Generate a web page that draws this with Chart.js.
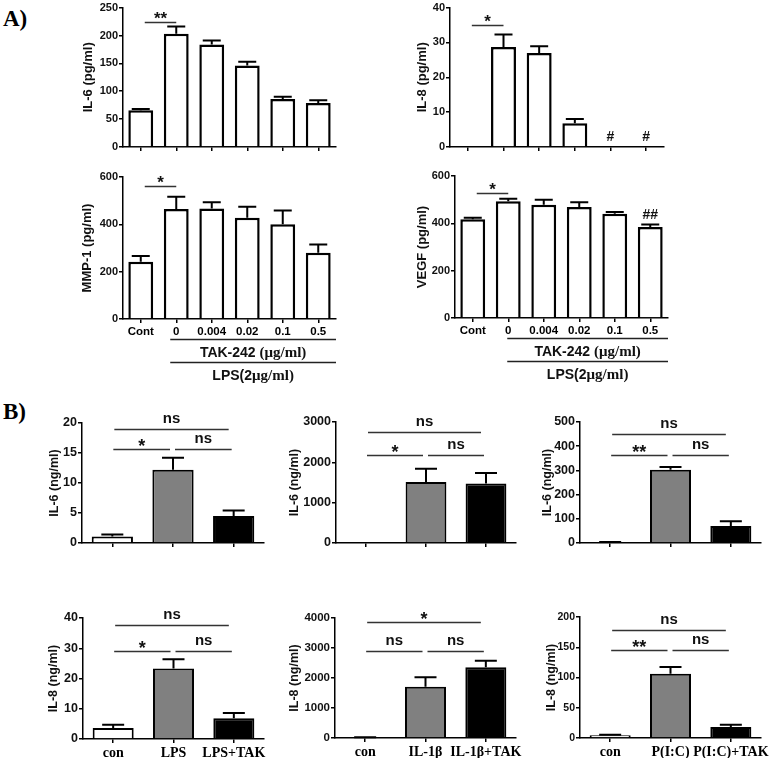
<!DOCTYPE html>
<html><head><meta charset="utf-8">
<script src="https://cdn.jsdelivr.net/npm/chart.js@4.4.1/dist/chart.umd.min.js"></script>
<style>
html,body{margin:0;padding:0;background:#fff;}
body{position:relative;width:778px;height:760px;overflow:hidden;}
canvas{position:absolute;}
.lbl{position:absolute;font-family:"Liberation Serif",serif;font-weight:bold;font-size:23px;line-height:23px;color:#000;}
</style></head><body>
<div class="lbl" style="left:3px;top:7px;">A)</div>
<div class="lbl" style="left:3px;top:400px;">B)</div>
<script>
// ---------- Panel A data ----------
const catA = ['Cont', '0', '0.004', '0.02', '0.1', '0.5'];
const il6A = [66, 203, 184, 146, 86, 79];
const il6AErr = [2, 13, 7, 7, 4, 5];
const il8A = [0, 28.7, 27.0, 6.8, 0, 0];
const il8AErr = [0, 3.6, 1.9, 1.2, 0, 0];
const il8AMarks = ['', '', '', '', '#', '#'];
const mmpA = [242, 465, 467, 428, 400, 280];
const mmpAErr = [24, 52, 26, 46, 58, 35];
const vegfA = [417, 493, 479, 469, 441, 385];
const vegfAErr = [7, 11, 21, 20, 7, 10];
const vegfAMarks = ['', '', '', '', '', '##'];
const sigIl6A = [[0, 1, 224, '**']];
const sigIl8A = [[0, 1, 35, '*']];
const sigMmpA = [[0, 1, 562, '*']];
const sigVegfA = [[0, 1, 528, '*']];

// ---------- Panel B data ----------
const catLPS = ['con', 'LPS', 'LPS+TAK'];
const catIL1 = ['con', 'IL-1β', 'IL-1β+TAK'];
const catPIC = ['con', 'P(I:C)', 'P(I:C)+TAK'];
const il6LPS = [1.1, 12.2, 4.5];
const il6LPSErr = [0.3, 2.0, 0.9];
const il6IL1 = [0, 1512, 1478];
const il6IL1Err = [0, 330, 257];
const il6PIC = [3, 303, 70];
const il6PICErr = [1, 11, 20];
const il8LPS = [3.6, 23.3, 6.9];
const il8LPSErr = [1.1, 3.1, 1.7];
const il8IL1 = [20, 1711, 2355];
const il8IL1Err = [5, 312, 219];
const il8PIC = [4.5, 106.4, 18.2];
const il8PICErr = [1, 11, 3.8];
const sigIl6LPS = [[0, 2, 19.07, 'ns'], [0, 1, 15.6, '*'], [1, 2, 15.6, 'ns']];
const sigIl6IL1 = [[0, 2, 2742, 'ns'], [0, 1, 2189, '*'], [1, 2, 2189, 'ns']];
const sigIl6PIC = [[0, 2, 452, 'ns'], [0, 1, 362, '**'], [1, 2, 362, 'ns']];
const sigIl8LPS = [[0, 2, 37.6, 'ns'], [0, 1, 29.0, '*'], [1, 2, 29.0, 'ns']];
const sigIl8IL1 = [[0, 2, 3867, '*'], [0, 1, 2895, 'ns'], [1, 2, 2895, 'ns']];
const sigIl8PIC = [[0, 2, 179, 'ns'], [0, 1, 145, '**'], [1, 2, 145, 'ns']];

const SANS = '"Liberation Sans", Arial, sans-serif';
const SERIF = '"Liberation Serif", "Times New Roman", serif';

function mixText(ctx, parts, cx, y) {
  let w = 0;
  parts.forEach(p => { ctx.font = p[1]; w += ctx.measureText(p[0]).width; });
  let x = cx - w / 2;
  ctx.textAlign = 'left';
  parts.forEach(p => { ctx.font = p[1]; ctx.fillText(p[0], x, y); x += ctx.measureText(p[0]).width; });
}

function drawAnnot(chart, s) {
  const ctx = chart.ctx, xs = chart.scales.x, ys = chart.scales.y;
  const meta = chart.getDatasetMeta(0);
  const ca = chart.chartArea;
  ctx.save();
  // error bars
  ctx.strokeStyle = '#000'; ctx.lineWidth = s.errW;
  s.values.forEach((v, i) => {
    const e = s.errors[i]; if (!e) return;
    const x = meta.data[i].x, y0 = ys.getPixelForValue(v), y1 = ys.getPixelForValue(v + e);
    ctx.beginPath(); ctx.moveTo(x, y0); ctx.lineTo(x, y1);
    ctx.moveTo(x - s.cap / 2, y1); ctx.lineTo(x + s.cap / 2, y1); ctx.stroke();
  });
  // marks (#)
  if (s.marks) {
    ctx.fillStyle = '#111'; ctx.font = 'bold 14px ' + SANS; ctx.textAlign = 'center'; ctx.textBaseline = 'alphabetic';
    s.marks.forEach((m, i) => {
      if (!m) return;
      const yt = ys.getPixelForValue(s.values[i] + (s.errors[i] || 0));
      ctx.fillText(m, meta.data[i].x, yt - 6);
    });
  }
  // significance brackets
  ctx.strokeStyle = '#333'; ctx.lineWidth = 1.5; ctx.fillStyle = '#111';
  s.sig.forEach(b => {
    const [i, j, yv, lab] = b;
    const ins = s.inset(i, j);
    const x1 = xs.getPixelForValue(i) + ins[0], x2 = xs.getPixelForValue(j) + ins[1];
    const y = Math.round(ys.getPixelForValue(yv)) + 0.5;
    ctx.beginPath(); ctx.moveTo(x1, y); ctx.lineTo(x2, y); ctx.stroke();
    ctx.textAlign = 'center'; ctx.textBaseline = 'alphabetic';
    if (lab.indexOf('*') >= 0) { ctx.font = 'bold ' + s.starSize + 'px ' + SANS; ctx.fillText(lab, (x1 + x2) / 2, y + s.starDy); }
    else { ctx.font = 'bold ' + s.nsSize + 'px ' + SANS; ctx.fillText(lab, (x1 + x2) / 2, y - 6.5); }
  });
  // under-axis treatment labels
  if (s.under) {
    const xa = xs.getPixelForValue(1) + s.underOff, xb = ca.right;
    const b0 = ca.bottom;
    ctx.strokeStyle = '#222'; ctx.lineWidth = 1.3;
    ctx.beginPath(); ctx.moveTo(xa, Math.round(b0 + 20) + 0.5); ctx.lineTo(xb, Math.round(b0 + 20) + 0.5);
    ctx.moveTo(xa, Math.round(b0 + 43) + 0.5); ctx.lineTo(xb, Math.round(b0 + 43) + 0.5); ctx.stroke();
    ctx.fillStyle = '#111'; ctx.textBaseline = 'alphabetic';
    const mid = (xa + xb) / 2;
    mixText(ctx, [['TAK-242 ', 'bold 14px ' + SANS], ['(μg/ml)', 'bold 15px ' + SERIF]], mid, b0 + 37.5);
    mixText(ctx, [['LPS(2', 'bold 14px ' + SANS], ['μg/ml)', 'bold 15px ' + SERIF]], mid, b0 + 61);
  }
  ctx.restore();
}

function makeChart(s) {
  const cv = document.createElement('canvas');
  const W = s.r - s.l + s.lpad + s.rpad, H = s.b - s.t + s.tpad + s.bpad;
  cv.width = W; cv.height = H;
  cv.style.left = (s.l - s.lpad) + 'px'; cv.style.top = (s.t - s.tpad) + 'px';
  cv.style.width = W + 'px'; cv.style.height = H + 'px';
  document.body.appendChild(cv);
  const gridCfg = { display: true, drawOnChartArea: false, drawTicks: true, tickLength: 4, color: '#000', tickColor: '#000', lineWidth: 1.5, offset: false };
  new Chart(cv, {
    type: 'bar',
    data: { labels: s.labels, datasets: [{ data: s.values, backgroundColor: s.fills, borderColor: '#000', borderWidth: s.bw, barPercentage: s.bp, categoryPercentage: 1, borderSkipped: 'start' }] },
    options: {
      responsive: false, animation: false, devicePixelRatio: 1,
      layout: { padding: { top: s.tpad, right: s.rpad, left: 0, bottom: 0 }, autoPadding: false },
      plugins: { legend: { display: false }, tooltip: { enabled: false }, title: { display: false } },
      scales: {
        x: {
          offset: true, grid: gridCfg, border: { display: true, color: '#000', width: 1.5 },
          ticks: { display: s.showX, font: s.xFont, color: '#000', padding: 2, autoSkip: false, maxRotation: 0, minRotation: 0 },
          afterFit(sc) { sc.height = s.bpad; }
        },
        y: {
          min: 0, max: s.max, grid: gridCfg, border: { display: true, color: '#000', width: 1.5 },
          ticks: { stepSize: s.step, font: { family: SANS, weight: 'bold', size: s.yts }, color: '#111', padding: 1, callback: v => String(v) },
          title: { display: true, text: s.title, font: { family: SANS, weight: 'bold', size: s.tts, lineHeight: 1.2 }, color: '#111', padding: 0 },
          afterFit(sc) { sc.width = s.lpad; }
        }
      }
    },
    plugins: [{ id: 'annot', afterDatasetsDraw(chart) { drawAnnot(chart, s); } }]
  });
}

const whiteA = catA.map(() => '#ffffff');
const fillsB = ['#ffffff', '#808080', '#000000'];
const insetA = () => [4, 0];
const insetB = (i, j) => (j - i === 2 ? [2, -5] : (i === 0 ? [1, -3] : [2, -2]));
const baseA = { bw: 2.5, bp: 0.70, errW: 2, cap: 18, yts: 11, tts: 13, inset: insetA, starSize: 17, starDy: 1, nsSize: 14, rpad: 8, xFont: { family: SANS, weight: 'bold', size: 11.5 } };
const baseB = { bw: 2, bp: 0.68, errW: 2, cap: 22, yts: 12.5, tts: 12.5, inset: insetB, starSize: 18, starDy: 2, nsSize: 15, rpad: 10, xFont: { family: SERIF, weight: 'bold', size: 14 } };

// Panel A
makeChart(Object.assign({}, baseA, { l: 123, r: 336, t: 5, b: 147, lpad: 42, tpad: 5, bpad: 10, max: 250, step: 50, title: 'IL-6 (pg/ml)', labels: catA, values: il6A, errors: il6AErr, fills: whiteA, sig: sigIl6A, showX: false }));
makeChart(Object.assign({}, baseA, { l: 450, r: 664, t: 5, b: 147, lpad: 35, tpad: 5, bpad: 10, max: 40, step: 10, title: 'IL-8 (pg/ml)', labels: catA, values: il8A, errors: il8AErr, fills: whiteA, sig: sigIl8A, marks: il8AMarks, showX: false }));
makeChart(Object.assign({}, baseA, { l: 123, r: 336, t: 177, b: 319, lpad: 43, tpad: 12, bpad: 66, max: 600, step: 200, title: 'MMP-1 (pg/ml)', labels: catA, values: mmpA, errors: mmpAErr, fills: whiteA, sig: sigMmpA, showX: true, under: true, underOff: -6 }));
makeChart(Object.assign({}, baseA, { l: 455, r: 668, t: 176, b: 318, lpad: 40, tpad: 12, bpad: 66, max: 600, step: 200, title: 'VEGF (pg/ml)', labels: catA, values: vegfA, errors: vegfAErr, fills: whiteA, sig: sigVegfA, marks: vegfAMarks, showX: true, under: true, underOff: -1 }));

// Panel B
makeChart(Object.assign({}, baseB, { l: 82, r: 264, t: 423, b: 543, lpad: 35, tpad: 16, bpad: 12, max: 20, step: 5, title: 'IL-6 (ng/ml)', labels: catLPS, values: il6LPS, errors: il6LPSErr, fills: fillsB, sig: sigIl6LPS, showX: false }));
makeChart(Object.assign({}, baseB, { l: 336, r: 516, t: 422, b: 543, lpad: 49, tpad: 16, bpad: 12, max: 3000, step: 1000, title: 'IL-6 (ng/ml)', labels: catIL1, values: il6IL1, errors: il6IL1Err, fills: fillsB, sig: sigIl6IL1, showX: false }));
makeChart(Object.assign({}, baseB, { l: 580, r: 761, t: 422, b: 543, lpad: 40, tpad: 16, bpad: 12, max: 500, step: 100, title: 'IL-6 (ng/ml)', labels: catPIC, values: il6PIC, errors: il6PICErr, fills: fillsB, sig: sigIl6PIC, showX: false, rpad: 16 }));
makeChart(Object.assign({}, baseB, { l: 83, r: 264, t: 618, b: 739, lpad: 37, tpad: 16, bpad: 20, max: 40, step: 10, title: 'IL-8 (ng/ml)', labels: catLPS, values: il8LPS, errors: il8LPSErr, fills: fillsB, sig: sigIl8LPS, showX: true, rpad: 14 }));
makeChart(Object.assign({}, baseB, { l: 335, r: 516, t: 618, b: 738, lpad: 48, tpad: 16, bpad: 20, max: 4000, step: 1000, title: 'IL-8 (ng/ml)', labels: catIL1, values: il8IL1, errors: il8IL1Err, fills: fillsB, sig: sigIl8IL1, showX: true, rpad: 14, yts: 11.5 }));
makeChart(Object.assign({}, baseB, { l: 580, r: 761, t: 617, b: 738, lpad: 36, tpad: 16, bpad: 20, max: 200, step: 50, title: 'IL-8 (ng/ml)', labels: catPIC, values: il8PIC, errors: il8PICErr, fills: fillsB, sig: sigIl8PIC, showX: true, rpad: 17, yts: 10.5 }));
</script>
</body></html>
